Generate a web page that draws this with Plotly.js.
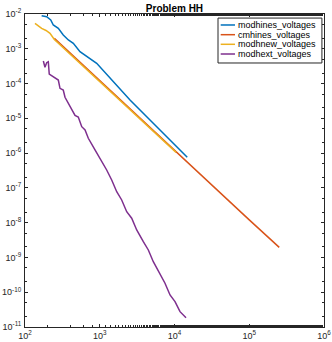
<!DOCTYPE html>
<html>
<head>
<meta charset="utf-8">
<script src="https://cdn.plot.ly/plotly-3.0.1.min.js"></script>
<style>
  html, body { margin: 0; padding: 0; background: #fff; }
  #chart { width: 332px; height: 342px; }
</style>
</head>
<body>
<div id="chart"></div>
<script>
// Values (log-log axes)
const modhinesX = [167, 195, 221, 239, 279, 325, 380, 443, 544, 669, 910, 2540, 6400, 14800];
const modhinesY = [8.93e-3, 8.36e-3, 6.72e-3, 4.83e-3, 3.88e-3, 2.49e-3, 1.79e-3, 1.44e-3, 8.24e-4, 5.92e-4, 3.83e-4, 3.37e-5, 4.62e-6, 7.6e-7];

const cmhinesX = [247, 1000, 10000, 100000, 252000];
const cmhinesY = [2.0e-3, 1.2e-4, 1.2e-6, 1.2e-8, 1.95e-9];

const modhnewX = [136, 149, 167, 191, 216, 247, 1000, 10500];
const modhnewY = [5.4e-3, 4.67e-3, 3.88e-3, 3.36e-3, 2.79e-3, 1.85e-3, 1.14e-4, 1.05e-6];

const modhextX = [176, 185, 195, 205, 211, 239, 279, 294, 325, 343, 400, 467, 516, 574, 636, 703, 864, 1007, 1238, 1445,
    1686, 1966, 2294, 2676, 3121, 3827, 4467, 5204, 6397, 7464, 8710, 10160, 11850, 14260];
const modhextY = [4.46e-4, 2.94e-4, 3.98e-4, 4.25e-4, 1.88e-4, 1.57e-4, 1.26e-4, 7.31e-5, 6.53e-5, 4.03e-5, 2.16e-5, 1.21e-5, 1.09e-5,
    5.75e-6, 4.62e-6, 2.67e-6, 1.23e-6, 7.10e-7, 3.27e-7, 1.69e-7, 7.78e-8, 4.49e-8, 2.07e-8, 1.34e-8, 6.16e-9, 2.84e-9, 1.64e-9,
    7.55e-10, 3.13e-10, 1.81e-10, 8.33e-11, 5.35e-11, 2.76e-11, 1.85e-11];

const seriesNames = ['modhines_voltages', 'cmhines_voltages', 'modhnew_voltages', 'modhext_voltages'];
const seriesColors = ['#0072BD', '#D95319', '#EDB120', '#7E2F8E'];

const xTickVals = [1e2, 1e3, 1e4, 1e5, 1e6];
const xTickText = ['10<sup>2</sup>', '10<sup>3</sup>', '10<sup>4</sup>', '10<sup>5</sup>', '10<sup>6</sup>'];
const yTickVals = [1e-11, 1e-10, 1e-9, 1e-8, 1e-7, 1e-6, 1e-5, 1e-4, 1e-3, 1e-2];
const yTickText = ['10<sup>-11</sup>', '10<sup>-10</sup>', '10<sup>-9</sup>', '10<sup>-8</sup>', '10<sup>-7</sup>',
    '10<sup>-6</sup>', '10<sup>-5</sup>', '10<sup>-4</sup>', '10<sup>-3</sup>', '10<sup>-2</sup>'];

const axisColor = '#262626';
const fontFamily = 'Liberation Sans, Arial, sans-serif';

const xs = [modhinesX, cmhinesX, modhnewX, modhextX];
const ys = [modhinesY, cmhinesY, modhnewY, modhextY];

const traces = seriesNames.map((name, i) => ({
    x: xs[i],
    y: ys[i],
    mode: 'lines',
    name: name,
    line: { color: seriesColors[i], width: 1.5 }
}));

// Compact MATLAB-style legend (plotly's own legend rows are too tall here)
const legendLeft = 0.6455, legendRight = 0.993, legendTop = 0.987, legendBottom = 0.8435;
const rowY = [0.9649, 0.9339, 0.9032, 0.8722];

const shapes = [{
    type: 'rect', xref: 'paper', yref: 'paper',
    x0: legendLeft, x1: legendRight, y0: legendBottom, y1: legendTop,
    fillcolor: '#fff', line: { color: axisColor, width: 1 }, layer: 'above'
}];
const annotations = [];
seriesNames.forEach((name, i) => {
    shapes.push({
        type: 'line', xref: 'paper', yref: 'paper',
        x0: 0.6545, x1: 0.7023, y0: rowY[i], y1: rowY[i],
        line: { color: seriesColors[i], width: 1.5 }, layer: 'above'
    });
    annotations.push({
        xref: 'paper', yref: 'paper', x: 0.706, y: rowY[i],
        xanchor: 'left', yanchor: 'middle', showarrow: false,
        text: name, font: { family: fontFamily, size: 9, color: '#000' }
    });
});

const axisCommon = {
    type: 'log',
    tickmode: 'array',
    showline: true,
    linecolor: axisColor,
    linewidth: 1,
    mirror: 'ticks',
    ticks: 'inside',
    ticklen: 3,
    tickcolor: axisColor,
    showgrid: false,
    zeroline: false,
    tickfont: { family: fontFamily, size: 9, color: axisColor },
    minor: { ticks: 'inside', ticklen: 2, tickcolor: axisColor, showgrid: false }
};

const layout = {
    width: 332,
    height: 342,
    margin: { l: 25, r: 8, t: 14, b: 15 },
    paper_bgcolor: '#fff',
    plot_bgcolor: '#fff',
    showlegend: false,
    title: {
        text: '<b>Problem HH</b>',
        x: 0.5255,
        xanchor: 'center',
        y: 0.985,
        yanchor: 'top',
        font: { family: fontFamily, size: 10, color: '#000' }
    },
    xaxis: Object.assign({}, axisCommon, {
        range: [2, 6],
        tickvals: xTickVals,
        ticktext: xTickText
    }),
    yaxis: Object.assign({}, axisCommon, {
        range: [-11, -2],
        tickvals: yTickVals,
        ticktext: yTickText,
        ticklabelstandoff: 1
    }),
    shapes: shapes,
    annotations: annotations
};

Plotly.newPlot('chart', traces, layout, { displayModeBar: false, staticPlot: true });
</script>
</body>
</html>
